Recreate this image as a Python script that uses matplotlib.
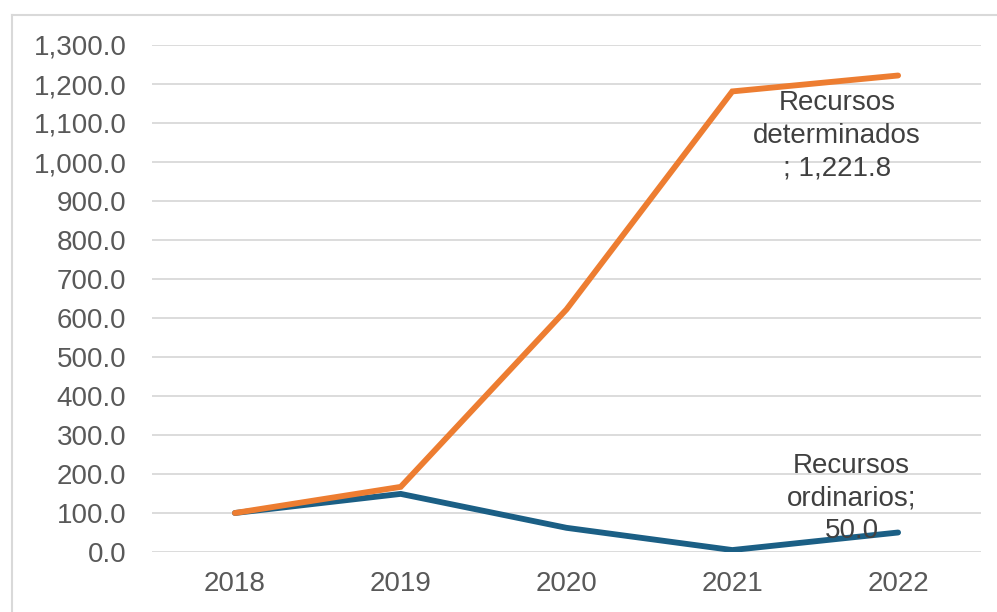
import numpy as np
import matplotlib.pyplot as plt
from matplotlib.lines import Line2D
from matplotlib.ticker import FuncFormatter

# data
years = ["2018", "2019", "2020", "2021", "2022"]
determinados = [100.0, 167.0, 622.0, 1181.0, 1221.8]
ordinarios = [100.0, 149.0, 62.0, 5.0, 50.0]

plt.rcParams['font.family'] = ['Liberation Sans', 'DejaVu Sans']

fig = plt.figure(figsize=(9.97, 6.12), dpi=100)
ax = fig.add_axes([152/997, 1-552/612, (981-152)/997, (552-45)/612])

x = np.arange(len(years))
ax.plot(x, ordinarios, color='#1B5F85', lw=4.2, solid_capstyle='round', solid_joinstyle='miter', zorder=3)
ax.plot(x, determinados, color='#ED7D31', lw=4.2, solid_capstyle='round', solid_joinstyle='miter', zorder=3)

ax.set_xlim(-0.5, len(years)-0.5)
ax.set_ylim(0, 1300)
ax.set_yticks(np.arange(0, 1301, 100))
ax.yaxis.set_major_formatter(FuncFormatter(lambda v, p: f"{v:,.1f}"))
ax.set_xticks(x)
ax.set_xticklabels(years)
ax.grid(axis='y', color='#D9D9D9', lw=1.3)
ax.set_axisbelow(True)
for s in ax.spines.values():
    s.set_visible(False)
ax.tick_params(length=0, labelsize=20, colors='#595959')
ax.tick_params(axis='y', pad=18.5)
ax.tick_params(axis='x', pad=14)

# data labels
ax.text(3.63, 1067, "Recursos\ndeterminados\n; 1,221.8", ha='center', va='center',
        fontsize=20, color='#404040', linespacing=1.33, zorder=4)
ax.text(3.72, 138, "Recursos\nordinarios;\n50.0", ha='center', va='center',
        fontsize=20, color='#404040', linespacing=1.33, zorder=4)

# chart frame
fig.add_artist(Line2D([12/997, 1], [1-15/612, 1-15/612], color='#D9D9D9', lw=1.5))
fig.add_artist(Line2D([12/997, 12/997], [0, 1-15/612], color='#D9D9D9', lw=1.5))

fig.savefig('out.png', dpi=100)
